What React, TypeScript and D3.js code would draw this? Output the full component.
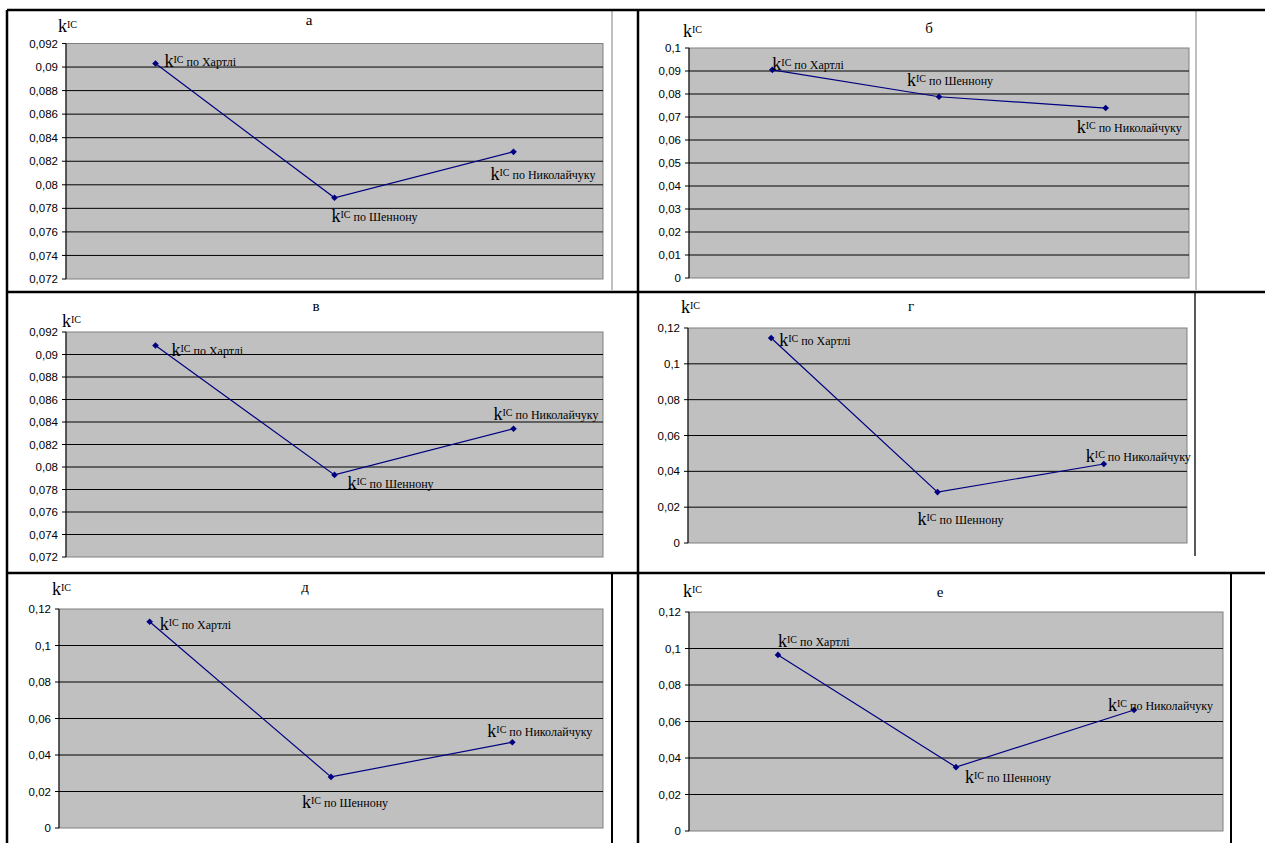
import React from "react";
import * as d3 from "d3";

// ---- data ----
const categories = ["по Хартлі", "по Шеннону", "по Николайчуку"];
const panelTitles = ["а", "б", "в", "г", "д", "е"];
const valuesA = [0.0903, 0.0789, 0.0828];
const valuesB = [0.0905, 0.0788, 0.0739];
const valuesV = [0.0908, 0.0793, 0.0834];
const valuesG = [0.1144, 0.0284, 0.0441];
const valuesD = [0.113, 0.028, 0.047];
const valuesE = [0.0965, 0.035, 0.0663];
const ticksNarrow = [0.072, 0.074, 0.076, 0.078, 0.08, 0.082, 0.084, 0.086, 0.088, 0.09, 0.092];
const ticksTenth = [0, 0.01, 0.02, 0.03, 0.04, 0.05, 0.06, 0.07, 0.08, 0.09, 0.1];
const ticksWide = [0, 0.02, 0.04, 0.06, 0.08, 0.1, 0.12];

// ---- layout ----
type Panel = {
  title: string;
  values: number[];
  ticks: number[];
  x0: number; x1: number; yTop: number; yBot: number;
  titlePos: [number, number];
  axisLabel: [number, number];
  labelOff: [number, number][];
};

const panels: Panel[] = [
  { title: panelTitles[0], values: valuesA, ticks: ticksNarrow, x0: 66, x1: 603, yTop: 43.5, yBot: 279,
    titlePos: [309, 25], axisLabel: [58, 32], labelOff: [[9, 3], [-3, 24], [-23, 28]] },
  { title: panelTitles[1], values: valuesB, ticks: ticksTenth, x0: 689, x1: 1189, yTop: 48, yBot: 278,
    titlePos: [929, 33], axisLabel: [683, 37], labelOff: [[0, 0], [-32, -11], [-29, 25]] },
  { title: panelTitles[2], values: valuesV, ticks: ticksNarrow, x0: 66, x1: 603, yTop: 332, yBot: 557,
    titlePos: [316, 311], axisLabel: [62, 327], labelOff: [[16, 10], [13, 14], [-20, -9]] },
  { title: panelTitles[3], values: valuesG, ticks: ticksWide, x0: 688, x1: 1187, yTop: 328, yBot: 543,
    titlePos: [911, 311], axisLabel: [681, 313], labelOff: [[8, 8], [-20, 33], [-18, -2]] },
  { title: panelTitles[4], values: valuesD, ticks: ticksWide, x0: 59, x1: 603, yTop: 609, yBot: 828,
    titlePos: [305, 592], axisLabel: [52, 595], labelOff: [[10, 8], [-29, 31], [-25, -5]] },
  { title: panelTitles[5], values: valuesE, ticks: ticksWide, x0: 689, x1: 1223, yTop: 612, yBot: 831,
    titlePos: [940, 597], axisLabel: [683, 597], labelOff: [[0, -8], [9, 16], [-26, 1]] },
];

const fmt = (v: number) => (v === 0 ? "0" : String(+v.toFixed(4)).replace(".", ","));
const SERIF = "'Liberation Serif', 'Times New Roman', serif";
const SANS = "'Liberation Sans', Arial, sans-serif";

function KLabel({ x, y, text }: { x: number; y: number; text?: string }) {
  return (
    <text x={x} y={y} fontFamily={SERIF} fill="#000">
      <tspan fontSize={18}>k</tspan>
      <tspan fontSize={10} dy={-4}>IC</tspan>
      {text ? <tspan fontSize={12} dy={3}>{" " + text}</tspan> : null}
    </text>
  );
}

function ChartPanel({ p }: { p: Panel }) {
  const x = d3.scalePoint<string>().domain(categories).range([p.x0, p.x1]).padding(0.5);
  const y = d3.scaleLinear()
    .domain([p.ticks[0], p.ticks[p.ticks.length - 1]])
    .range([p.yBot, p.yTop]);
  const line = d3.line<number>()
    .x((_, i) => x(categories[i]) as number)
    .y((d) => y(d));
  const marker = d3.symbol().type(d3.symbolSquare).size(22)();
  return (
    <g>
      <rect x={p.x0} y={p.yTop} width={p.x1 - p.x0} height={p.yBot - p.yTop}
        fill="#C0C0C0" stroke="#808080" strokeWidth={1} />
      {p.ticks.slice(1, -1).map((t) => (
        <line key={"g" + t} x1={p.x0} x2={p.x1} y1={y(t)} y2={y(t)} stroke="#000" strokeWidth={1} />
      ))}
      <line x1={p.x0} x2={p.x0} y1={p.yTop} y2={p.yBot} stroke="#000" strokeWidth={1} />
      {p.ticks.map((t) => (
        <g key={"t" + t}>
          <line x1={p.x0 - 4} x2={p.x0} y1={y(t)} y2={y(t)} stroke="#000" strokeWidth={1} />
          <text x={p.x0 - 8} y={y(t)} dy="0.36em" textAnchor="end" fontFamily={SANS} fontSize={11.5} fill="#000">
            {fmt(t)}
          </text>
        </g>
      ))}
      <path d={line(p.values) || ""} fill="none" stroke="#000080" strokeWidth={1.2} />
      {p.values.map((v, i) => (
        <path key={"m" + i} d={marker || ""}
          transform={`translate(${x(categories[i])},${y(v)}) rotate(45)`} fill="#000080" />
      ))}
      {p.values.map((v, i) => (
        <KLabel key={"l" + i} x={(x(categories[i]) as number) + p.labelOff[i][0]} y={y(v) + p.labelOff[i][1]} text={categories[i]} />
      ))}
      <KLabel x={p.axisLabel[0]} y={p.axisLabel[1]} />
      <text x={p.titlePos[0]} y={p.titlePos[1]} textAnchor="middle" fontFamily={SERIF} fontSize={15} fill="#000">
        {p.title}
      </text>
    </g>
  );
}

export default function App() {
  const W = 1265, H = 843;
  return (
    <svg width={W} height={H} style={{ position: "absolute", left: 0, top: 0, background: "#fff" }}>
      <rect x={0} y={0} width={W} height={H} fill="#fff" />
      {/* inner chart frames */}
      <line x1={612} x2={612} y1={10} y2={290} stroke="#808080" strokeWidth={1} />
      <line x1={1196} x2={1196} y1={10} y2={290} stroke="#808080" strokeWidth={1} />
      <line x1={1195} x2={1195} y1={292} y2={556} stroke="#222" strokeWidth={1.5} />
      <line x1={612} x2={612} y1={573} y2={843} stroke="#000" strokeWidth={2} />
      <line x1={1231} x2={1231} y1={573} y2={843} stroke="#000" strokeWidth={2} />
      {/* table borders */}
      <line x1={7} x2={W} y1={10} y2={10} stroke="#000" strokeWidth={2.5} />
      <line x1={7} x2={W} y1={292} y2={292} stroke="#000" strokeWidth={2.5} />
      <line x1={7} x2={W} y1={573} y2={573} stroke="#000" strokeWidth={2.5} />
      <line x1={7} x2={7} y1={10} y2={H} stroke="#000" strokeWidth={2.5} />
      <line x1={638} x2={638} y1={10} y2={H} stroke="#000" strokeWidth={2.5} />
      {panels.map((p, i) => (
        <ChartPanel key={i} p={p} />
      ))}
    </svg>
  );
}
